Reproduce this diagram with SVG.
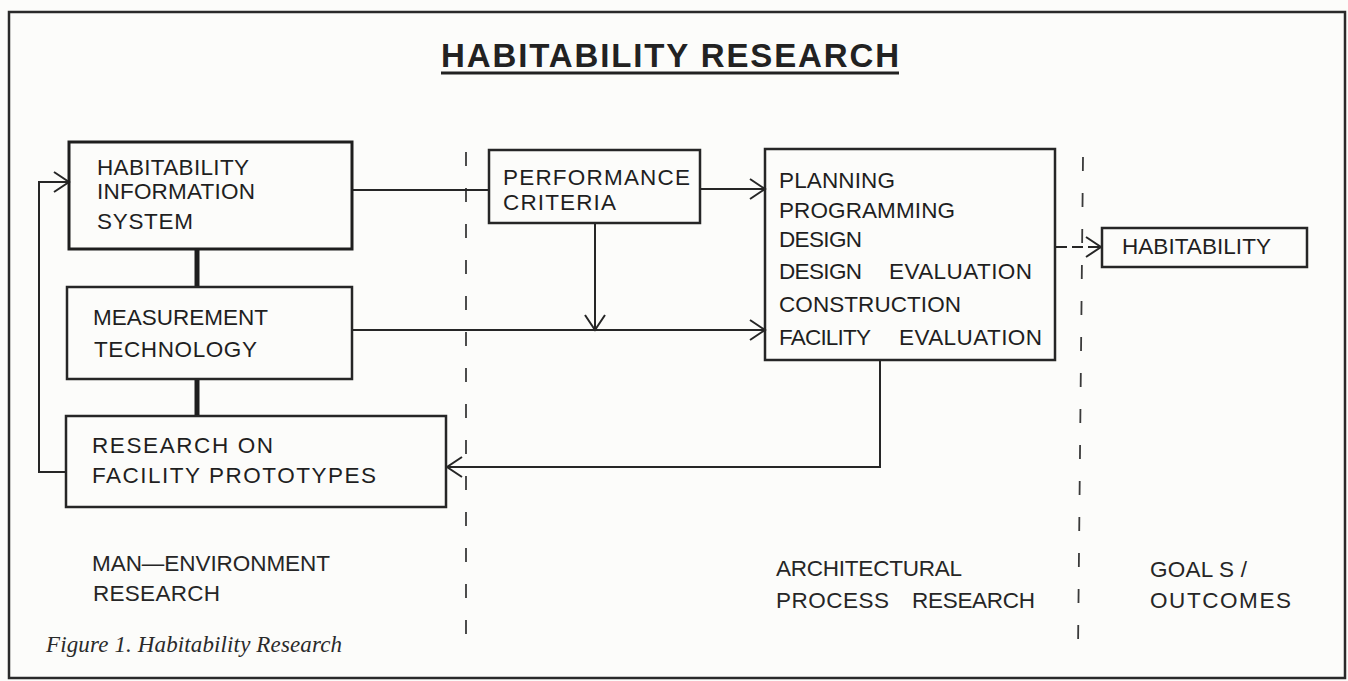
<svg xmlns="http://www.w3.org/2000/svg" width="1348" height="681" viewBox="0 0 1348 681">
  <defs>
    <style>
      .bg { fill: #fcfcfa; }
      .frame { fill: none; stroke: #2a2a2a; stroke-width: 2.5; }
      .box { fill: none; stroke: #262626; stroke-width: 2.5; }
      .boxh { fill: none; stroke: #1e1e1e; stroke-width: 3; }
      .lbl { font-family: "Liberation Sans", Arial, sans-serif; font-size: 22.5px; fill: #1f1f1f; }
      .foot { font-family: "Liberation Sans", Arial, sans-serif; font-size: 22.5px; fill: #262626; }
      .title { font-family: "Liberation Sans", Arial, sans-serif; font-size: 33px; font-weight: bold; fill: #222; }
      .cap { font-family: "Liberation Serif", "Times New Roman", serif; font-style: italic; font-size: 23px; fill: #2a2a2a; }
      .ln { fill: none; stroke: #262626; stroke-width: 2; }
      .thick { fill: none; stroke: #1e1e1e; stroke-width: 5; }
      .div { fill: none; stroke: #3a3a3a; stroke-width: 1.8; stroke-dasharray: 14 22; }
    </style>
    <marker id="chev" viewBox="-1 -1 18 22" refX="15" refY="10" markerWidth="18" markerHeight="22" markerUnits="userSpaceOnUse" orient="auto" overflow="visible">
      <path d="M0,0 L15,10 L0,20" fill="none" stroke="#262626" stroke-width="2"/>
    </marker>
  </defs>

  <rect class="bg" x="0" y="0" width="1348" height="681"/>
  <rect class="frame" x="9" y="12" width="1336" height="666"/>

  <g id="title">
    <text class="title" x="441" y="67" textLength="458" lengthAdjust="spacing">HABITABILITY RESEARCH</text>
    <line x1="441" y1="73" x2="899" y2="73" stroke="#222" stroke-width="3"/>
  </g>

  <g id="dividers">
    <line class="div" x1="466" y1="152" x2="466" y2="645"/>
    <line class="div" x1="1083" y1="157" x2="1078" y2="650"/>
  </g>

  <g id="connectors">
    <line class="thick" x1="197" y1="249" x2="197" y2="287"/>
    <line class="thick" x1="197" y1="379" x2="197" y2="416"/>
    <polyline class="ln" points="66,472 39,472 39,182 69,182" marker-end="url(#chev)"/>
    <line class="ln" x1="352" y1="190" x2="489" y2="190"/>
    <line class="ln" x1="700" y1="189" x2="765" y2="189" marker-end="url(#chev)"/>
    <line class="ln" x1="595" y1="223" x2="595" y2="330" marker-end="url(#chev)"/>
    <line class="ln" x1="352" y1="330" x2="765" y2="330" marker-end="url(#chev)"/>
    <polyline class="ln" points="880,360 880,467 447,467" marker-end="url(#chev)"/>
    <line class="ln" x1="1056" y1="247" x2="1101" y2="247" stroke-dasharray="11 5" marker-end="url(#chev)"/>
  </g>

  <g id="node-his">
    <rect class="boxh" x="69" y="142" width="283" height="107"/>
    <text class="lbl" x="97" y="175" textLength="152" lengthAdjust="spacing">HABITABILITY</text>
    <text class="lbl" x="97" y="199" textLength="158" lengthAdjust="spacing">INFORMATION</text>
    <text class="lbl" x="97" y="229" textLength="96" lengthAdjust="spacing">SYSTEM</text>
  </g>

  <g id="node-measurement">
    <rect class="box" x="67" y="287" width="285" height="92"/>
    <text class="lbl" x="93" y="325" textLength="175" lengthAdjust="spacing">MEASUREMENT</text>
    <text class="lbl" x="94" y="357" textLength="163" lengthAdjust="spacing">TECHNOLOGY</text>
  </g>

  <g id="node-research">
    <rect class="box" x="66" y="416" width="380" height="91"/>
    <text class="lbl" x="92" y="453" textLength="181" lengthAdjust="spacing">RESEARCH ON</text>
    <text class="lbl" x="92" y="483" textLength="284" lengthAdjust="spacing">FACILITY PROTOTYPES</text>
  </g>

  <g id="node-performance">
    <rect class="box" x="489" y="150" width="211" height="73"/>
    <text class="lbl" x="503" y="185" textLength="187" lengthAdjust="spacing">PERFORMANCE</text>
    <text class="lbl" x="503" y="210" textLength="113" lengthAdjust="spacing">CRITERIA</text>
  </g>

  <g id="node-process">
    <rect class="box" x="765" y="149" width="290" height="211"/>
    <text class="lbl" x="779" y="188" textLength="116" lengthAdjust="spacing">PLANNING</text>
    <text class="lbl" x="779" y="218" textLength="176" lengthAdjust="spacing">PROGRAMMING</text>
    <text class="lbl" x="779" y="247" textLength="83" lengthAdjust="spacing">DESIGN</text>
    <text class="lbl" x="779" y="279" textLength="83" lengthAdjust="spacing">DESIGN</text>
    <text class="lbl" x="889" y="279" textLength="143" lengthAdjust="spacing">EVALUATION</text>
    <text class="lbl" x="779" y="312" textLength="182" lengthAdjust="spacing">CONSTRUCTION</text>
    <text class="lbl" x="779" y="345" textLength="92" lengthAdjust="spacing">FACILITY</text>
    <text class="lbl" x="899" y="345" textLength="143" lengthAdjust="spacing">EVALUATION</text>
  </g>

  <g id="node-habitability">
    <rect class="box" x="1102" y="228" width="205" height="39"/>
    <text class="lbl" x="1122" y="254" textLength="149" lengthAdjust="spacing">HABITABILITY</text>
  </g>

  <g id="column-labels">
    <text class="foot" x="92" y="571" textLength="238" lengthAdjust="spacing">MAN—ENVIRONMENT</text>
    <text class="foot" x="93" y="601" textLength="127" lengthAdjust="spacing">RESEARCH</text>
    <text class="foot" x="776" y="576" textLength="186" lengthAdjust="spacing">ARCHITECTURAL</text>
    <text class="foot" x="776" y="608" textLength="113" lengthAdjust="spacing">PROCESS</text>
    <text class="foot" x="912" y="608" textLength="123" lengthAdjust="spacing">RESEARCH</text>
    <text class="foot" x="1150" y="577" textLength="97" lengthAdjust="spacing">GOAL S /</text>
    <text class="foot" x="1150" y="608" textLength="141" lengthAdjust="spacing">OUTCOMES</text>
  </g>

  <g id="caption">
    <text class="cap" x="46" y="652" textLength="296" lengthAdjust="spacing">Figure 1. Habitability Research</text>
  </g>
</svg>
